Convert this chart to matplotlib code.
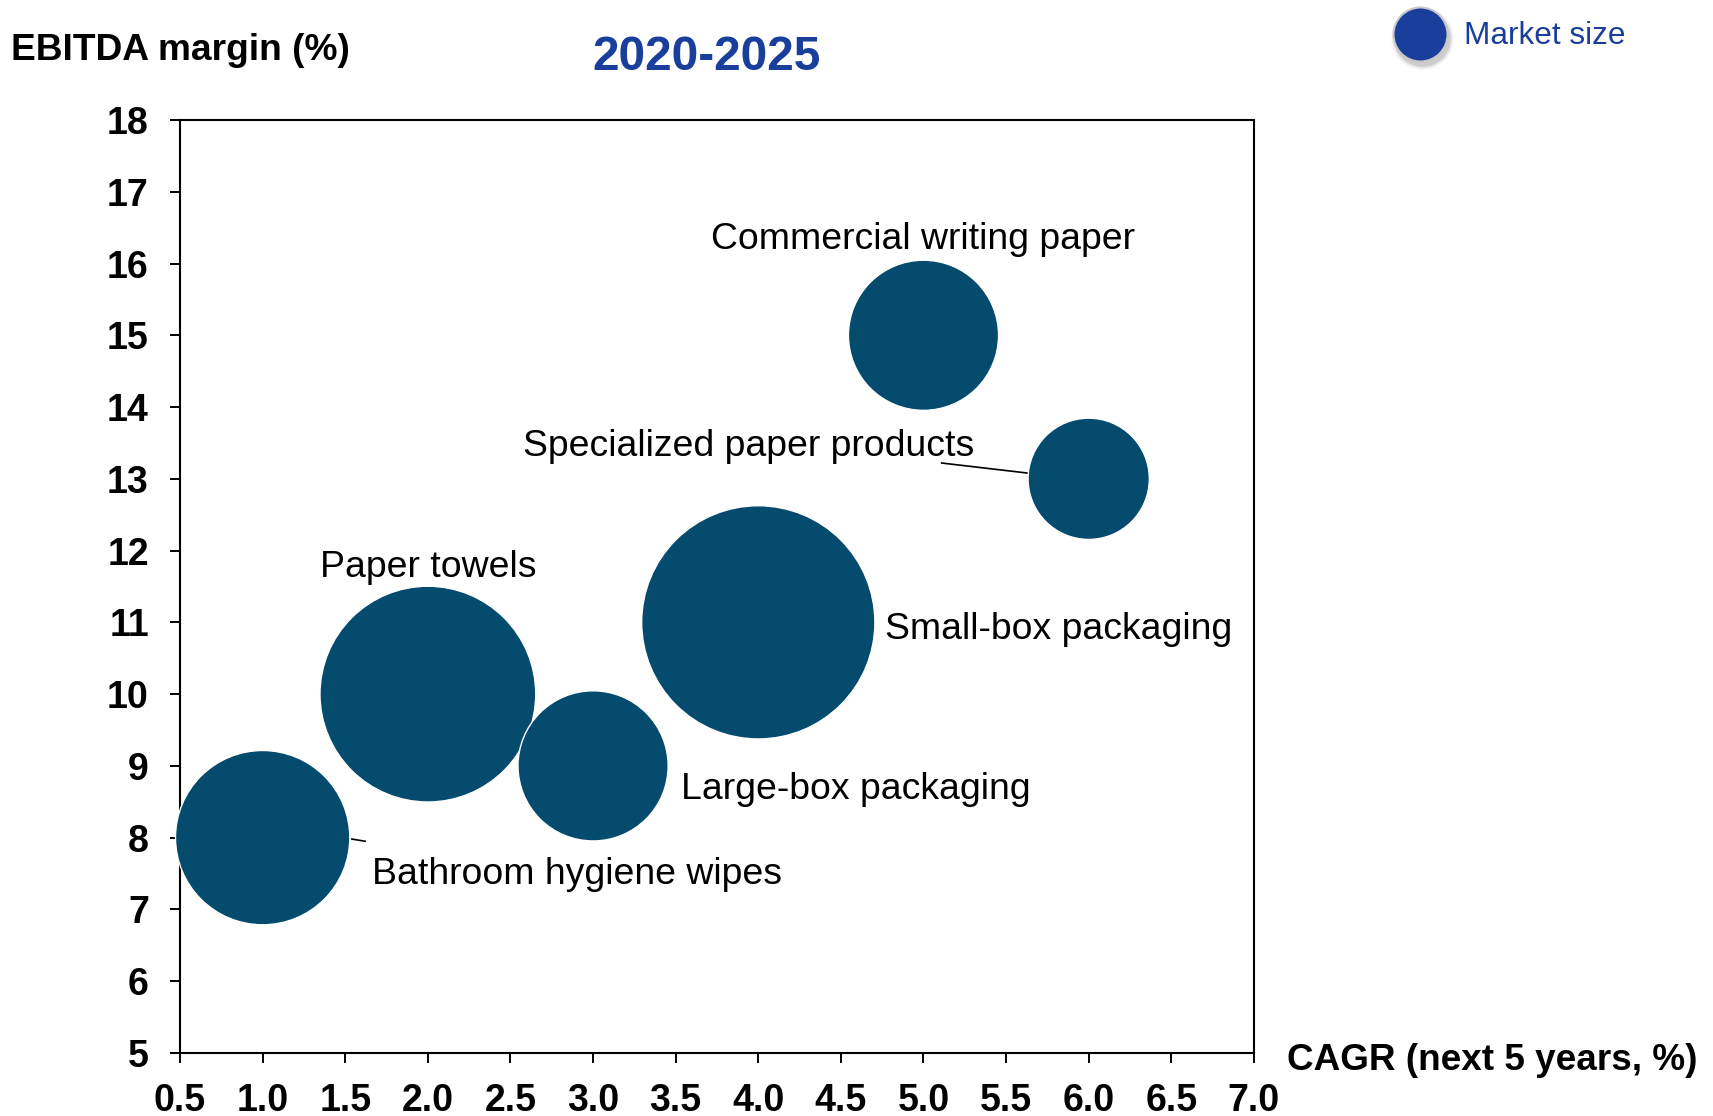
import matplotlib
matplotlib.use("Agg")
import matplotlib.pyplot as plt

plt.rcParams['font.family'] = ['Liberation Sans', 'DejaVu Sans']

# Segments: CAGR (%), EBITDA margin (%), market size (relative units)
segments = ["Bathroom hygiene wipes", "Paper towels", "Large-box packaging",
            "Small-box packaging", "Commercial writing paper", "Specialized paper products"]
cagr = [1.0, 2.0, 3.0, 4.0, 5.0, 6.0]
ebitda = [8.0, 10.0, 9.0, 11.0, 15.0, 13.0]
market_size = [6.2, 9.5, 4.6, 11.1, 4.6, 3.0]

x_ticks = [0.5, 1.0, 1.5, 2.0, 2.5, 3.0, 3.5, 4.0, 4.5, 5.0, 5.5, 6.0, 6.5, 7.0]
y_ticks = list(range(5, 19))

# Label anchor positions (data coords) and alignment
label_pos = [(1.66, 7.49, 'left'), (2.0, 11.76, 'center'), (3.53, 8.67, 'left'),
             (4.77, 10.90, 'left'), (5.0, 16.33, 'center'), (3.94, 13.45, 'center')]
# Leader lines: (start, end) in data coords, None where no line is drawn
leaders = [((1.54, 7.98), (1.62, 7.95)), None, None, None, None,
           ((5.11, 13.22), (5.63, 13.08))]

BUBBLE = '#054B6E'
BLUE = '#1A3E9C'
SIZE_SCALE = 2540

fig = plt.figure(figsize=(17.13, 11.16), dpi=100)
ax = fig.add_axes([0.1051, 0.0565, 0.6269, 0.8360])

ax.scatter(cagr, ebitda, s=[m * SIZE_SCALE for m in market_size], color=BUBBLE,
           edgecolor='white', linewidth=1.0, zorder=3, clip_on=False)

for name, (lx, ly, ha), ld in zip(segments, label_pos, leaders):
    ax.text(lx, ly, name, ha=ha, va='center', fontsize=26.9, color='black', zorder=4)
    if ld is not None:
        (x0, y0), (x1, y1) = ld
        ax.plot([x0, x1], [y0, y1], color='black', lw=1.2, zorder=2.9, clip_on=False)

ax.set_xlim(0.5, 7.0)
ax.set_ylim(5, 18)
ax.set_xticks(x_ticks)
ax.set_xticklabels([f"{v:.1f}" for v in x_ticks])
ax.set_yticks(y_ticks)
ax.set_yticklabels([str(v) for v in y_ticks])

for lbl in ax.get_xticklabels() + ax.get_yticklabels():
    lbl.set_fontweight('bold')
    lbl.set_fontsize(27)

ax.tick_params(axis='x', direction='out', length=7.5, width=1.4, pad=14)
ax.tick_params(axis='y', direction='out', length=7.5, width=1.4, pad=15)
for sp in ax.spines.values():
    sp.set_linewidth(1.5)
    sp.set_color('black')

# Axis titles
fig.text(11 / 1713, 1 - 50 / 1116, "EBITDA margin (%)", fontsize=26.7,
         fontweight='bold', ha='left', va='center')
fig.text(1287 / 1713, 1 - 1060 / 1116, "CAGR (next 5 years, %)", fontsize=26.6,
         fontweight='bold', ha='left', va='center')
fig.text(707 / 1713, 1 - 57 / 1116, "2020-2025", fontsize=34.5, fontweight='bold',
         color=BLUE, ha='center', va='center')

# Legend marker with soft shadow
lx, ly = 1420 / 1713, 1 - 34 / 1116
for grow, alpha in [(1.35, 0.06), (1.25, 0.08), (1.16, 0.12), (1.08, 0.18)]:
    ax.scatter([lx + 2 / 1713], [ly - 4 / 1116], s=1513 * grow, color='#808080',
               alpha=alpha, linewidth=0, transform=fig.transFigure, clip_on=False, zorder=5)
ax.scatter([lx], [ly], s=1513, color=BLUE, edgecolor='#c8c8c8', linewidth=1.5,
           transform=fig.transFigure, clip_on=False, zorder=6)
fig.text(1464 / 1713, ly - 2 / 1116, "Market size", fontsize=22.7, color=BLUE,
         ha='left', va='center')

fig.savefig("out.png", dpi=100)
